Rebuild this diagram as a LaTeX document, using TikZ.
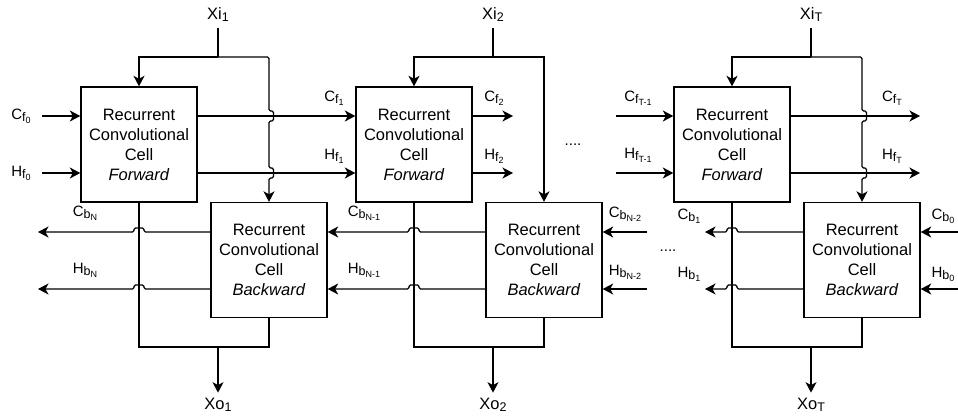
\documentclass[tikz,border=0pt]{standalone}
\usepackage{fontspec}
\setmainfont{Liberation Sans}
\usetikzlibrary{arrows.meta}

% nested subscripts: first level and second level
\newcommand\subA[1]{\raisebox{-2pt}{\fontsize{12.5}{13}\selectfont #1}}
\newcommand\subB[1]{\raisebox{-2.2pt}{\fontsize{9}{10}\selectfont #1}}

\begin{document}
\begin{tikzpicture}[x=1pt,y=-1pt,
  line width=1.35pt,
  cell/.style={draw, rectangle, minimum width=116pt, minimum height=115pt,
    inner sep=0pt, align=center, font=\fontsize{16.5}{20}\selectfont},
  arr/.style={-{Stealth[length=10.5pt,width=11pt,inset=3pt]}},
  lbl/.style={inner sep=0pt, font=\fontsize{15}{16}\selectfont},
  io/.style={inner xsep=0pt, inner ysep=5pt, font=\fontsize{16.5}{18}\selectfont},
  hop/.style={rounded corners=1.5pt}]
\useasboundingbox (0,0) rectangle (958,418);

% ---------- cells ----------
\node[cell] (f1) at (139,144.5) {Recurrent\\Convolutional\\Cell\\\textit{Forward}};
\node[cell] (b1) at (269,260) {Recurrent\\Convolutional\\Cell\\\textit{Backward}};
\node[cell] (f2) at (414,144.5) {Recurrent\\Convolutional\\Cell\\\textit{Forward}};
\node[cell] (b2) at (544,260) {Recurrent\\Convolutional\\Cell\\\textit{Backward}};
\node[cell] (fT) at (732,144.5) {Recurrent\\Convolutional\\Cell\\\textit{Forward}};
\node[cell] (bT) at (862,260) {Recurrent\\Convolutional\\Cell\\\textit{Backward}};

% ---------- inputs Xi ----------
\node[io] (xi1) at (218,15) {Xi\subA{1}};
\node[io] (xi2) at (493,15) {Xi\subA{2}};
\node[io] (xiT) at (811,15) {Xi\subA{T}};
\coordinate (j1) at (218,57);
\coordinate (j2) at (493,57);
\coordinate (jT) at (811,57);
\draw (xi1) -- (j1);
\draw (xi2) -- (j2);
\draw (xiT) -- (jT);
\draw[arr] (j1) -| (f1.north);
\draw[arr] (j2) -| (f2.north);
\draw[arr] (jT) -| (fT.north);
\draw[arr,hop] (j1) -- (269,57) -- (269,111) -- (273.5,111) -- (273.5,121) -- (269,121)
  -- (269,168) -- (273.5,168) -- (273.5,178) -- (269,178) -- (b1.north);
\draw[arr] (j2) -| (b2.north);
\draw[arr,hop] (jT) -- (862,57) -- (862,111) -- (866.5,111) -- (866.5,121) -- (862,121)
  -- (862,168) -- (866.5,168) -- (866.5,178) -- (862,178) -- (bT.north);

% ---------- forward states ----------
\coordinate (cf0) at (42,116);
\coordinate (hf0) at (42,173);
\draw[arr] (cf0) -- (f1.west |- cf0);
\draw[arr] (hf0) -- (f1.west |- hf0);
\draw[arr] (f1.east |- cf0) -- (f2.west |- cf0);
\draw[arr] (f1.east |- hf0) -- (f2.west |- hf0);
\coordinate (cf2) at (513,116);
\coordinate (hf2) at (513,173);
\draw[arr] (f2.east |- cf2) -- (cf2);
\draw[arr] (f2.east |- hf2) -- (hf2);
\coordinate (cfTm) at (616,116);
\coordinate (hfTm) at (616,173);
\draw[arr] (cfTm) -- (fT.west |- cfTm);
\draw[arr] (hfTm) -- (fT.west |- hfTm);
\coordinate (cfT) at (920,116);
\coordinate (hfT) at (920,173);
\draw[arr] (fT.east |- cfT) -- (cfT);
\draw[arr] (fT.east |- hfT) -- (hfT);

\node[lbl] (lcf0) at (21,116) {C\subA{f\subB{0}}};
\node[lbl] (lhf0) at (21,173) {H\subA{f\subB{0}}};
\node[lbl] (lcf1) at (334,98) {C\subA{f\subB{1}}};
\node[lbl] (lhf1) at (334,156) {H\subA{f\subB{1}}};
\node[lbl] (lcf2) at (494,98) {C\subA{f\subB{2}}};
\node[lbl] (lhf2) at (494,156) {H\subA{f\subB{2}}};
\node[lbl] (lcfTm) at (638,98) {C\subA{f\subB{T-1}}};
\node[lbl] (lhfTm) at (638,155) {H\subA{f\subB{T-1}}};
\node[lbl] (lcfT) at (892,98) {C\subA{f\subB{T}}};
\node[lbl] (lhfT) at (892,156) {H\subA{f\subB{T}}};

% ---------- backward states ----------
\coordinate (cbN) at (38,232);
\coordinate (hbN) at (38,289);
\draw[arr,hop] (b1.west |- cbN) -- (144,232) -- (144,228) -- (134,228) -- (134,232) -- (cbN);
\draw[arr,hop] (b1.west |- hbN) -- (144,289) -- (144,285) -- (134,285) -- (134,289) -- (hbN);
\draw[arr,hop] (b2.west |- cbN) -- (419,232) -- (419,228) -- (409,228) -- (409,232) -- (b1.east |- cbN);
\draw[arr,hop] (b2.west |- hbN) -- (419,289) -- (419,285) -- (409,285) -- (409,289) -- (b1.east |- hbN);
\coordinate (cbN2) at (647,232);
\coordinate (hbN2) at (647,289);
\draw[arr] (cbN2) -- (b2.east |- cbN2);
\draw[arr] (hbN2) -- (b2.east |- hbN2);
\coordinate (cb1) at (705,232);
\coordinate (hb1) at (705,289);
\draw[arr,hop] (bT.west |- cb1) -- (737,232) -- (737,228) -- (727,228) -- (727,232) -- (cb1);
\draw[arr,hop] (bT.west |- hb1) -- (737,289) -- (737,285) -- (727,285) -- (727,289) -- (hb1);
\coordinate (cb0) at (958,232);
\coordinate (hb0) at (958,289);
\draw[arr] (cb0) -- (bT.east |- cb0);
\draw[arr] (hb0) -- (bT.east |- hb0);

\node[lbl] (lcbN) at (85,213) {C\subA{b\subB{N}}};
\node[lbl] (lhbN) at (85,270) {H\subA{b\subB{N}}};
\node[lbl] (lcbN1) at (364,213) {C\subA{b\subB{N-1}}};
\node[lbl] (lhbN1) at (364,270) {H\subA{b\subB{N-1}}};
\node[lbl] (lcbN2) at (625,214) {C\subA{b\subB{N-2}}};
\node[lbl] (lhbN2) at (625,272) {H\subA{b\subB{N-2}}};
\node[lbl] (lcb1) at (689,216) {C\subA{b\subB{1}}};
\node[lbl] (lhb1) at (689,274) {H\subA{b\subB{1}}};
\node[lbl] (lcb0) at (943,216) {C\subA{b\subB{0}}};
\node[lbl] (lhb0) at (943,274) {H\subA{b\subB{0}}};

% ---------- outputs Xo ----------
\coordinate (m1) at (218,347);
\coordinate (m2) at (493,347);
\coordinate (mT) at (811,347);
\draw (f1.south) |- (b1.south |- m1) -- (b1.south);
\draw (f2.south) |- (b2.south |- m2) -- (b2.south);
\draw (fT.south) |- (bT.south |- mT) -- (bT.south);
\node[io] (xo1) at (218,405) {Xo\subA{1}};
\node[io] (xo2) at (493,405) {Xo\subA{2}};
\node[io] (xoT) at (811,405) {Xo\subA{T}};
\draw[arr] (m1) -- (xo1);
\draw[arr] (m2) -- (xo2);
\draw[arr] (mT) -- (xoT);

% ---------- ellipses ----------
\node[lbl] (dots1) at (573,145) {....};
\node[lbl] (dots2) at (668,251) {....};
\end{tikzpicture}
\end{document}
